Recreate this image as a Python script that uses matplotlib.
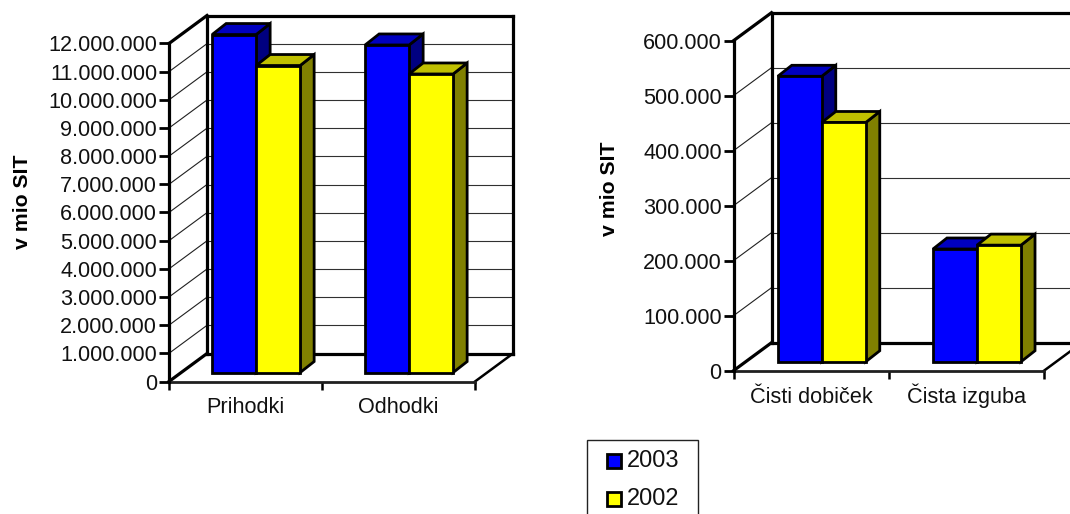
import matplotlib
matplotlib.use("Agg")
import matplotlib.pyplot as plt
from matplotlib.patches import Polygon, Rectangle

plt.rcParams['font.family'] = ['Liberation Sans', 'DejaVu Sans']

W, H = 1070, 514

years = ['2003', '2002']
colors = {'2003': ('#0000FF', '#0000C0', '#000080'), '2002': ('#FFFF00', '#C0C000', '#808000')}

cat_left = ['Prihodki', 'Odhodki']
left_2003 = [12000000, 11630000]
left_2002 = [10900000, 10600000]
ticks_left = list(range(0, 12000001, 1000000))

cat_right = ['Čisti dobiček', 'Čista izguba']
right_2003 = [519000, 205000]
right_2002 = [435000, 212000]
ticks_right = list(range(0, 600001, 100000))


def fmt(v):
    return f'{v:,}'.replace(',', '.')


def chart(box, cats, s1, s2, ticks, wall, lab_x, lab_y):
    # box = front plane in pixels: left, right, bottom, top
    l, r, b, t = box
    ax = fig.add_axes([l / W, 1 - b / H, (r - l) / W, (b - t) / H])
    ymax = ticks[-1]
    ax.set_xlim(-0.5, len(cats) - 0.5)
    ax.set_ylim(0, ymax)
    ux = len(cats) / (r - l)       # data per pixel
    uy = ymax / (b - t)
    dx, dy = wall[0] * ux, wall[1] * uy
    x0, x1 = -0.5, len(cats) - 0.5

    # back wall, floor, grid
    ax.add_patch(Polygon([(x0, 0), (x1, 0), (x1 + dx, dy), (x0 + dx, dy)], fc='white', ec='none', clip_on=False))
    for v in ticks[1:-1]:
        ax.plot([x0 + dx, x1 + dx], [v + dy, v + dy], color='#303030', lw=0.8, clip_on=False, zorder=1)
        ax.plot([x0, x0 + dx], [v, v + dy], color='#202020', lw=0.8, clip_on=False, zorder=1)
    thick = dict(color='black', lw=2.3, clip_on=False, zorder=2, solid_capstyle='projecting')
    ax.plot([x0 + dx, x1 + dx], [ymax + dy, ymax + dy], **thick)
    ax.plot([x0 + dx, x0 + dx], [dy, ymax + dy], **thick)
    ax.plot([x1 + dx, x1 + dx], [dy, ymax + dy], **thick)
    ax.plot([x0, x0 + dx], [ymax, ymax + dy], **thick)
    ax.plot([x0 + dx, x1 + dx], [dy, dy], **thick)
    ax.plot([x0, x0 + dx], [0, dy], **thick)
    ax.plot([x1, x1 + dx], [0, dy], color='black', lw=1.8, clip_on=False, zorder=2)
    ax.plot([x0, x1], [0, 0], color='#202020', lw=2.0, clip_on=False, zorder=2)

    # bars, standing a third of the way into the floor
    off_x, off_y = dx * 0.28, dy * 0.32
    bw = 44 * ux
    ddx, ddy = 14 * ux, 11 * uy
    for i in range(len(cats)):
        for j, (year, vals) in enumerate(zip(years, (s1, s2))):
            front, top, side = colors[year]
            xa = i - bw + j * bw + off_x
            xb = xa + bw
            ya = off_y
            yb = off_y + vals[i]
            st = dict(ec='black', lw=2.0, clip_on=False, zorder=3 + j, joinstyle='miter')
            ax.add_patch(Polygon([(xb, ya), (xb + ddx, ya + ddy), (xb + ddx, yb + ddy), (xb, yb)], fc=side, **st))
            ax.add_patch(Polygon([(xa, yb), (xb, yb), (xb + ddx, yb + ddy), (xa + ddx, yb + ddy)], fc=top, **st))
            ax.add_patch(Polygon([(xa, ya), (xb, ya), (xb, yb), (xa, yb)], fc=front, **st))

    for s in ('top', 'right', 'bottom'):
        ax.spines[s].set_visible(False)
    ax.spines['left'].set_linewidth(2.3)
    ax.patch.set_visible(False)
    ax.set_yticks(ticks)
    ax.set_yticklabels([fmt(v) for v in ticks], fontsize=15.6, color='#111111')
    ax.set_xticks([x0 + k for k in range(len(cats) + 1)])
    ax.set_xticklabels([])
    ax.set_xticks(range(len(cats)), labels=cats, minor=True, fontsize=15.6, color='#111111')
    for lab in ax.get_xticklabels(minor=True):
        lab.set_verticalalignment('baseline')
    ax.tick_params(axis='x', which='minor', length=0, pad=23)
    ax.tick_params(axis='x', which='major', length=6, width=1.8)
    ax.tick_params(axis='y', length=7, width=2.0, pad=1.5)
    ax.set_ylabel('v mio SIT', fontsize=15.3, fontweight='bold')
    ax.yaxis.set_label_coords((lab_x - l) / (r - l), lab_y)
    return ax


fig = plt.figure(figsize=(W / 100, H / 100), dpi=100)

chart((169, 475, 381.5, 43.5), cat_left, left_2003, left_2002, ticks_left, (38, 28), 32, 0.531)
chart((733.5, 1044, 370.7, 40.7), cat_right, right_2003, right_2002, ticks_right, (38, 28), 619, 0.55)

# legend, its box runs off the bottom of the picture
fig.add_artist(Rectangle((587 / W, -0.05), 111 / W, 1 - 440 / H + 0.05, transform=fig.transFigure,
                         fc='white', ec='#222222', lw=1.0))
for year, yp in zip(years, (461, 499)):
    fig.add_artist(Rectangle((607 / W, 1 - (yp + 7) / H), 14 / W, 14 / H, transform=fig.transFigure,
                             fc=colors[year][0], ec='black', lw=2.0))
    fig.text(627 / W, 1 - yp / H, year, fontsize=17, va='center', ha='left', color='#111111')

fig.savefig('out.png', dpi=100)
